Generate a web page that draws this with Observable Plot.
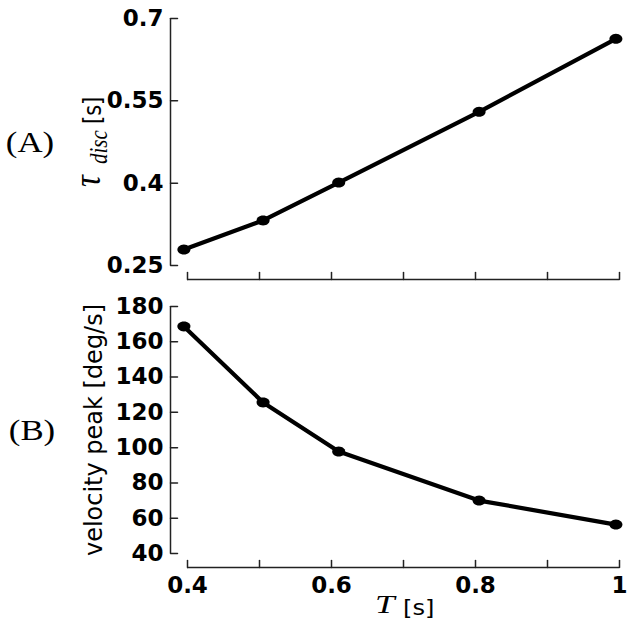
<!DOCTYPE html>
<html><head><meta charset="utf-8">
<script src="https://cdn.jsdelivr.net/npm/d3@7"></script>
<script src="https://cdn.jsdelivr.net/npm/@observablehq/plot@0.6"></script>
<style>
body{margin:0;background:#fff;}
#wrap{position:relative;width:635px;height:635px;overflow:hidden;background:#fff;}
#wrap svg{position:absolute;left:0;}
</style></head><body><div id="wrap"></div>
<script>
// ---- data ----
const T = [0.395, 0.505, 0.61, 0.805, 0.995];
const tauDisc = [0.279, 0.332, 0.401, 0.530, 0.663];
const velocityPeak = [168.7, 125.6, 97.8, 70.0, 56.4];
const xTicks = [0.4, 0.5, 0.6, 0.7, 0.8, 0.9, 1.0];
const xLabelTicks = [0.4, 0.6, 0.8, 1.0];
const xLabels = ["0.4", "0.6", "0.8", "1"];
const tauTicks = [0.25, 0.4, 0.55, 0.7];
const tauLabels = ["0.25", "0.4", "0.55", "0.7"];
const velTicks = [40, 60, 80, 100, 120, 140, 160, 180];
const velLabels = ["40", "60", "80", "100", "120", "140", "160", "180"];

const rows = T.map((t, i) => ({T: t, tau: tauDisc[i], vel: velocityPeak[i]}));
const xLab = new Map(xLabelTicks.map((d, i) => [d, xLabels[i]]));
const tauLab = new Map(tauTicks.map((d, i) => [d, tauLabels[i]]));
const velLab = new Map(velTicks.map((d, i) => [d, velLabels[i]]));

const tickShape = {draw(ctx, l) { ctx.moveTo(0, 0); ctx.lineTo(0, -l); }};
const ellipse = {draw(ctx, size) {
  const r = Math.sqrt(size / Math.PI), n = 28;
  for (let k = 0; k <= n; ++k) {
    const a = 2 * Math.PI * k / n, px = 1.3 * r * Math.cos(a), py = r * Math.sin(a);
    k ? ctx.lineTo(px, py) : ctx.moveTo(px, py);
  }
  ctx.closePath();
}};
const axisColor = "#222";
const tickFont = {fontFamily: "DejaVu Sans", fontWeight: "bold", fontSize: 23, fill: "#000"};

function panel({height, marginTop, marginBottom, yDomain, yTicks, yLab, yKey, showX}) {
  const first = yTicks[0], last = yTicks[yTicks.length - 1];
  return Plot.plot({
    width: 635, height, marginLeft: 170, marginRight: 16, marginTop, marginBottom,
    style: {background: "transparent", color: "#000", overflow: "visible"},
    x: {domain: [xTicks[0], xTicks[xTicks.length - 1]], insetLeft: 17},
    y: {domain: yDomain, insetBottom: 14},
    marks: [
      Plot.ruleX([xTicks[0]], {y1: first, y2: last, dx: -17, stroke: axisColor, strokeWidth: 1.5}),
      Plot.ruleY([first], {x1: xTicks[0], x2: xTicks[xTicks.length - 1], dy: 14, stroke: axisColor, strokeWidth: 1.5}),
      Plot.vector(yTicks, {y: d => d, frameAnchor: "left", length: 7, rotate: 90, anchor: "start", shape: tickShape, stroke: axisColor, strokeWidth: 1.5}),
      Plot.vector(xTicks, {x: d => d, frameAnchor: "bottom", length: 7, rotate: 0, anchor: "start", shape: tickShape, stroke: axisColor, strokeWidth: 1.5}),
      Plot.axisY(yTicks, {tickSize: 0, tickPadding: 7, tickFormat: d => yLab.get(d), label: null, ...tickFont}),
      showX ? Plot.axisX(xLabelTicks, {tickSize: 0, tickPadding: 9, tickFormat: d => xLab.get(d), label: null, ...tickFont}) : Plot.axisX({ticks: [], label: null}),
      Plot.line(rows, {x: "T", y: yKey, stroke: "#000", strokeWidth: 4.2}),
      Plot.dot(rows, {x: "T", y: yKey, r: 5, symbol: ellipse, fill: "#000", stroke: "none"})
    ]
  });
}

const wrap = document.getElementById("wrap");
const topPanel = panel({height: 295, marginTop: 18, marginBottom: 16, yDomain: [tauTicks[0], tauTicks[tauTicks.length - 1]], yTicks: tauTicks, yLab: tauLab, yKey: "tau", showX: false});
topPanel.style.top = "0px";
wrap.appendChild(topPanel);
const botPanel = panel({height: 350, marginTop: 21, marginBottom: 68, yDomain: [velTicks[0], velTicks[velTicks.length - 1]], yTicks: velTicks, yLab: velLab, yKey: "vel", showX: true});
botPanel.style.top = "285px";
wrap.appendChild(botPanel);

const ov = d3.select(wrap).append("svg").attr("width", 635).attr("height", 635).style("top", "0px").style("pointer-events", "none");
const serif = "Liberation Serif";
function txt(transform, str, family, size, opts = {}) {
  const t = ov.append("text").attr("transform", transform).attr("font-family", family).attr("font-size", size)
    .attr("text-anchor", opts.anchor || "start").attr("fill", "#000").text(str);
  if (opts.italic) t.attr("font-style", "italic");
  return t;
}
txt("translate(30,152) scale(1.2,1)", "(A)", serif, 29, {anchor: "middle"});
txt("translate(32,440) scale(1.2,1)", "(B)", serif, 29, {anchor: "middle"});

// tau_disc [s]
txt("translate(100,187) rotate(-90) scale(1,1.15)", "τ", serif, 33, {italic: true});
txt("translate(107,164) rotate(-90) scale(1,1.15)", "disc", serif, 21, {italic: true});
txt("translate(101,124) rotate(-90) scale(1,1.15)", "[s]", "DejaVu Sans", 21);

txt("translate(102,430) rotate(-90) scale(1,1.05)", "velocity peak [deg/s]", "DejaVu Sans", 24, {anchor: "middle"});

// T [s]
txt("translate(375,613) scale(1.35,1)", "T", serif, 26, {italic: true});
txt("translate(403,615) scale(1.15,1)", "[s]", "DejaVu Sans", 21);
</script></body></html>
